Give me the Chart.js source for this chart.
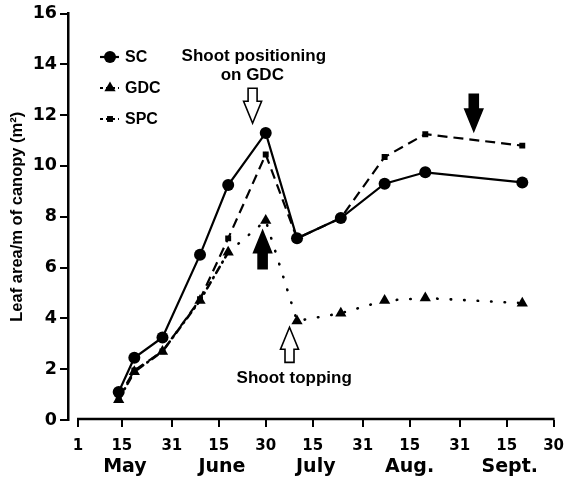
<!DOCTYPE html>
<html>
<head>
<meta charset="utf-8">
<script src="https://cdn.jsdelivr.net/npm/chart.js@4.4.1/dist/chart.umd.min.js"></script>
<style>
  html, body { margin: 0; padding: 0; background: #fff; }
</style>
</head>
<body>
<canvas id="chart" width="574" height="488"></canvas>
<script>
// sampling dates, counted in days from May 1
const sampleDays = [13, 18, 27, 39, 48, 60, 70, 84, 98, 111, 142];
const scValues  = [1.1, 2.45, 3.25, 6.5, 9.25, 11.3, 7.15, 7.95, 9.3, 9.75, 9.35];
const gdcValues = [0.8, 1.9, 2.7, 4.7, 6.6, 7.85, 3.9, 4.2, 4.7, 4.8, 4.6];
const spcValues = [0.9, 1.95, 2.7, 4.75, 7.15, 10.45, 7.15, 7.95, 10.35, 11.25, 10.8];

const tickDays   = [0, 14, 30, 45, 60, 75, 91, 106, 122, 137, 152];
const tickLabels = ['1', '15', '31', '15', '30', '15', '31', '15', '31', '15', '30'];
const monthDays  = [15, 46, 76, 106, 138];
const monthNames = ['May', 'June', 'July', 'Aug.', 'Sept.'];

// arrows: day, value at tail, value at tip, filled
const arrowDays   = [55.8, 59, 67.6, 126.5];
const arrowTails  = [13.06, 5.96, 2.27, 12.82];
const arrowTips   = [11.68, 7.45, 3.65, 11.37];
const arrowFilled = [false, true, false, true];

const noteTexts  = ['Shoot positioning', 'on GDC', 'Shoot topping'];
const noteDays   = [56.2, 55.7, 69.1];
const noteValues = [14.33, 13.57, 1.65];

const FONT = '"Liberation Sans", Arial, sans-serif';
const NUM_FONT = '"DejaVu Sans", sans-serif';
const pts = vals => sampleDays.map((d, i) => ({ x: d, y: vals[i] }));

const gdcDash = c => c.p0DataIndex < 4 ? [7, 5, 1, 5] : [0.5, 13];

const extras = {
  id: 'extras',
  afterDraw(chart) {
    const { ctx, scales: { x, y }, chartArea } = chart;
    ctx.save();
    // x axis line, starts at the "1" tick
    ctx.strokeStyle = '#000';
    ctx.lineWidth = 2.5;
    ctx.beginPath();
    ctx.moveTo(x.getPixelForValue(tickDays[0]) - 1, chartArea.bottom - 1);
    ctx.lineTo(x.getPixelForValue(tickDays[tickDays.length - 1]) + 1, chartArea.bottom - 1);
    ctx.stroke();

    // arrows
    arrowDays.forEach((d, i) => {
      const cx = x.getPixelForValue(d);
      const yt = y.getPixelForValue(arrowTails[i]);
      const yp = y.getPixelForValue(arrowTips[i]);
      const dir = yp > yt ? 1 : -1;
      const headW = 9, shaftW = 4.5, headL = 22;
      const yh = yp - dir * headL;
      ctx.beginPath();
      ctx.moveTo(cx - shaftW, yt);
      ctx.lineTo(cx - shaftW, yh);
      ctx.lineTo(cx - headW, yh);
      ctx.lineTo(cx, yp);
      ctx.lineTo(cx + headW, yh);
      ctx.lineTo(cx + shaftW, yh);
      ctx.lineTo(cx + shaftW, yt);
      ctx.closePath();
      ctx.lineWidth = 1.6;
      ctx.fillStyle = arrowFilled[i] ? '#000' : '#fff';
      ctx.fill();
      ctx.stroke();
    });

    // notes
    ctx.fillStyle = '#000';
    ctx.font = 'bold 17px ' + FONT;
    ctx.textAlign = 'center';
    ctx.textBaseline = 'middle';
    noteTexts.forEach((t, i) => {
      ctx.fillText(t, x.getPixelForValue(noteDays[i]), y.getPixelForValue(noteValues[i]));
    });

    // legend
    const legendY = [57, 88, 119];
    const lx = 110;
    chart.data.datasets.forEach((ds, i) => {
      const ly = legendY[i];
      ctx.beginPath();
      ctx.lineWidth = 2.2;
      ctx.setLineDash(i === 0 ? [] : [3, 3]);
      ctx.moveTo(lx - 10, ly);
      ctx.lineTo(lx + 9, ly);
      ctx.stroke();
      ctx.setLineDash([]);
      ctx.fillStyle = '#000';
      Chart.helpers.drawPoint(ctx, {
        pointStyle: ds.pointStyle, radius: ds.pointRadius, rotation: 0, borderWidth: 0
      }, lx, ly);
      ctx.font = 'bold 16px ' + FONT;
      ctx.textAlign = 'left';
      ctx.fillText(ds.label, lx + 15, ly + 1);
    });
    ctx.restore();
  }
};

new Chart(document.getElementById('chart'), {
  type: 'line',
  data: {
    datasets: [
      {
        label: 'SC', data: pts(scValues),
        borderColor: '#000', backgroundColor: '#000', borderWidth: 2.2,
        pointStyle: 'circle', pointRadius: 6, pointBorderWidth: 0
      },
      {
        label: 'GDC', data: pts(gdcValues),
        borderColor: '#000', backgroundColor: '#000', borderWidth: 2.6, borderCapStyle: 'round',
        segment: { borderDash: gdcDash },
        pointStyle: 'triangle', pointRadius: 6.5, pointBorderWidth: 0
      },
      {
        label: 'SPC', data: pts(spcValues),
        borderColor: '#000', backgroundColor: '#000', borderWidth: 2.2, borderDash: [10, 6],
        pointStyle: 'rect', pointRadius: 4.2, pointBorderWidth: 0
      }
    ]
  },
  options: {
    responsive: false,
    animation: false,
    layout: { padding: { top: 12, right: 14, left: 0, bottom: 0 } },
    plugins: { legend: { display: false }, tooltip: { enabled: false } },
    scales: {
      x: {
        type: 'linear', position: 'bottom', min: -3.2, max: 152,
        afterBuildTicks: s => { s.ticks = tickDays.map(v => ({ value: v })); },
        ticks: {
          autoSkip: false, maxRotation: 0, color: '#000', padding: 10,
          font: { family: NUM_FONT, size: 15, weight: 'bold' },
          callback: (v, i) => tickLabels[i]
        },
        grid: { drawOnChartArea: false, color: '#000', lineWidth: 2, tickLength: 7 },
        border: { display: false },
        afterFit: s => { s.height = 36; }
      },
      x2: {
        type: 'linear', position: 'bottom', min: -3.2, max: 152,
        afterBuildTicks: s => { s.ticks = monthDays.map(v => ({ value: v })); },
        ticks: {
          autoSkip: false, maxRotation: 0, color: '#000', padding: -8,
          font: { family: NUM_FONT, size: 19, weight: 'bold' },
          callback: (v, i) => monthNames[i]
        },
        grid: { display: false },
        border: { display: false },
        afterFit: s => { s.height = 32; }
      },
      y: {
        min: 0, max: 16,
        ticks: {
          stepSize: 2, color: '#000', padding: 3,
          font: { family: NUM_FONT, size: 17.5, weight: 'bold' }
        },
        grid: { drawOnChartArea: false, color: '#000', lineWidth: 2, tickLength: 8 },
        border: { display: true, color: '#000', width: 2.5 },
        title: {
          display: true, text: 'Leaf area/m of canopy (m²)', color: '#000',
          font: { family: FONT, size: 16.5, weight: 'bold' }, padding: { top: 8, bottom: 0 }
        },
        afterFit: s => { s.width = 68; }
      }
    }
  },
  plugins: [extras]
});
</script>
</body>
</html>
